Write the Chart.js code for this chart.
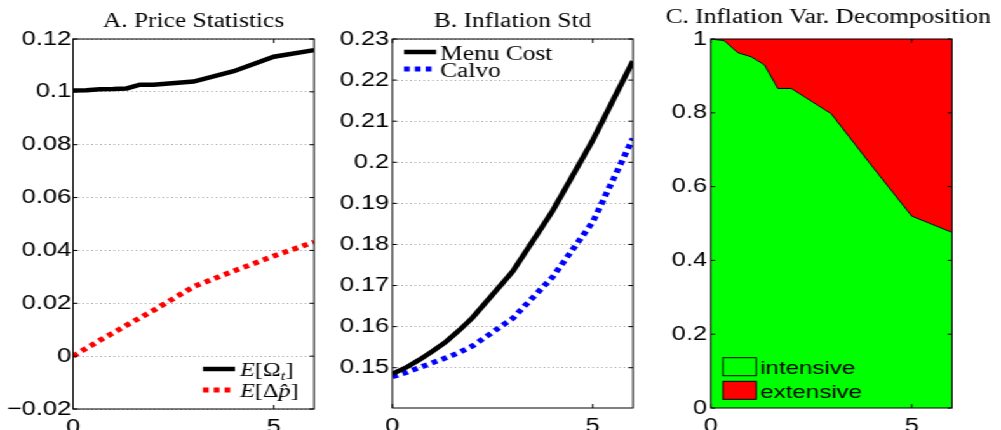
<!DOCTYPE html>
<html>
<head>
<meta charset="utf-8">
<script src="https://cdn.jsdelivr.net/npm/chart.js@4.4.0/dist/chart.umd.min.js"></script>
<style>
  html, body { margin: 0; padding: 0; background: #fff; overflow: hidden; }
  /* the original figure is stretched sideways, so draw narrow and widen */
  #stage { position: absolute; left: 0; top: 0; width: 788px; height: 430px; transform: scaleX(1.2703); transform-origin: 0 0; }
  .panel { position: absolute; top: 0; height: 430px; }
</style>
</head>
<body>
<div id="stage">
  <div class="panel" style="left:0;width:262px"><canvas id="chartA"></canvas></div>
  <div class="panel" style="left:262px;width:262px"><canvas id="chartB"></canvas></div>
  <div class="panel" style="left:516px;width:272px"><canvas id="chartC"></canvas></div>
</div>
<script>
// horizon shared by the three panels
const horizon = [0, 1/3, 2/3, 1, 4/3, 5/3, 2, 3, 4, 5, 6];
const xTicks = [0, 5];

// A. Price Statistics
const omega = [0.1005, 0.1006, 0.1010, 0.1011, 0.1013, 0.1027, 0.1027, 0.1039, 0.1078, 0.1133, 0.1158];
const dpHat = [0.0, 0.0030, 0.0060, 0.0088, 0.0117, 0.0145, 0.0173, 0.0263, 0.0322, 0.0379, 0.0432];
const yTicksA = [-0.02, 0, 0.02, 0.04, 0.06, 0.08, 0.1, 0.12];

// B. Inflation Std
const menuCost = [0.1485, 0.1500, 0.1519, 0.1540, 0.1563, 0.1591, 0.1622, 0.1734, 0.1882, 0.2054, 0.2246];
const calvo = [0.1478, 0.1488, 0.1500, 0.1512, 0.1524, 0.1537, 0.1553, 0.1620, 0.1721, 0.1855, 0.2058];
const yTicksB = [0.15, 0.16, 0.17, 0.18, 0.19, 0.2, 0.21, 0.22, 0.23];

// C. Inflation Var. Decomposition (shares, stacked)
const intensive = [1.0, 0.9955, 0.963, 0.952, 0.930, 0.866, 0.866, 0.797, 0.657, 0.520, 0.476];
const extensive = [0.0, 0.0045, 0.037, 0.048, 0.070, 0.134, 0.134, 0.203, 0.343, 0.480, 0.524];
const yTicksC = [0, 0.2, 0.4, 0.6, 0.8, 1];

const serif = '"Liberation Serif", "Times New Roman", serif';
const sans = '"Liberation Sans", Arial, sans-serif';
const tickFont = { family: sans, size: 20 };

function pts(arr) {
    return horizon.map((x, i) => ({ x: x, y: arr[i] }));
}

// box round the plot area with inward tick marks, matlab style
const framePlugin = {
    id: 'frame',
    afterDatasetsDraw(chart) {
        const { ctx, chartArea: a, scales } = chart;
        ctx.save();
        ctx.strokeStyle = '#000';
        ctx.lineWidth = 1;
        ctx.setLineDash([]);
        ctx.strokeRect(a.left, a.top, a.right - a.left, a.bottom - a.top);
        ctx.beginPath();
        scales.y.ticks.forEach(t => {
            const y = scales.y.getPixelForValue(t.value);
            ctx.moveTo(a.left, y); ctx.lineTo(a.left + 3.5, y);
            ctx.moveTo(a.right, y); ctx.lineTo(a.right - 3.5, y);
        });
        scales.x.ticks.forEach(t => {
            const x = scales.x.getPixelForValue(t.value);
            ctx.moveTo(x, a.bottom); ctx.lineTo(x, a.bottom - 4);
            ctx.moveTo(x, a.top); ctx.lineTo(x, a.top + 4);
        });
        ctx.stroke();
        ctx.restore();
    }
};

// legend drawn inside the plot area
function makeKey(cfg) {
    return {
        id: 'key',
        afterDraw(chart) {
            const { ctx, chartArea: a } = chart;
            ctx.save();
            cfg.items.forEach((item, i) => {
                const ds = chart.data.datasets[item.ds];
                const x0 = a.left + cfg.x;
                const yc = a.top + cfg.y + i * cfg.step;
                if (cfg.patch) {
                    ctx.fillStyle = ds.backgroundColor;
                    ctx.fillRect(x0, yc - cfg.h / 2, cfg.len, cfg.h);
                    ctx.strokeStyle = '#000';
                    ctx.lineWidth = 1;
                    ctx.setLineDash([]);
                    ctx.strokeRect(x0, yc - cfg.h / 2, cfg.len, cfg.h);
                } else {
                    ctx.strokeStyle = ds.borderColor;
                    ctx.lineWidth = ds.borderWidth;
                    ctx.setLineDash(ds.borderDash || []);
                    ctx.beginPath();
                    ctx.moveTo(x0, yc);
                    ctx.lineTo(x0 + cfg.len, yc);
                    ctx.stroke();
                }
                ctx.fillStyle = '#000';
                ctx.textBaseline = 'alphabetic';
                let x = x0 + cfg.len + cfg.gap;
                item.parts.forEach(p => {
                    ctx.font = p.font;
                    ctx.fillText(p.t, x, yc + cfg.base + (p.dy || 0));
                    x += ctx.measureText(p.t).width;
                });
            });
            ctx.restore();
        }
    };
}

function scalesFor(yMin, yMax, yTicks, yWidth, xHeight, labelPad, showGrid, stacked) {
    return {
        x: {
            type: 'linear', min: 0, max: 6,
            afterBuildTicks: s => { s.ticks = xTicks.map(v => ({ value: v })); },
            afterFit: s => { s.height = xHeight; },
            grid: { display: false, drawTicks: false },
            border: { display: false },
            ticks: { padding: 6, color: '#000', font: tickFont, maxRotation: 0 }
        },
        y: {
            min: yMin, max: yMax, stacked: stacked,
            afterBuildTicks: s => { s.ticks = yTicks.map(v => ({ value: v })); },
            afterFit: s => { s.width = yWidth; },
            grid: { display: showGrid, drawTicks: false, color: '#9a9a9a', lineWidth: 1 },
            border: { display: false, dash: [1, 2.5] },
            ticks: {
                padding: labelPad, color: '#000', font: tickFont,
                callback: v => String(v).replace('-', '\u2212')
            }
        }
    };
}

function titleFor(text, full, top) {
    return {
        display: true, text: text, color: '#000', fullSize: full,
        font: { family: serif, size: 20, weight: 'normal' },
        padding: { top: top, bottom: 15 - top }
    };
}

const it19 = 'italic 19px ' + serif;
const rm19 = '19px ' + serif;
const it13 = 'italic 13px ' + serif;

new Chart(document.getElementById('chartA'), {
    type: 'line',
    data: {
        datasets: [{
            label: 'E[Ω_t]',
            data: pts(omega),
            borderColor: '#000', borderWidth: 4.5,
            pointRadius: 0, tension: 0
        }, {
            label: 'E[Δp̂]',
            data: pts(dpHat),
            borderColor: '#ff0000', borderWidth: 5, borderDash: [4.5, 4],
            borderCapStyle: 'butt',
            pointRadius: 0, tension: 0
        }]
    },
    options: {
        responsive: true, maintainAspectRatio: false, animation: false,
        layout: { padding: { left: 0, right: 14.8, top: 0, bottom: 0 } },
        scales: scalesFor(-0.02, 0.12, yTicksA, 57.5, 21, 1.5, true, false),
        plugins: { legend: { display: false }, tooltip: { enabled: false }, title: titleFor('A. Price Statistics', false, 9.6) }
    },
    plugins: [framePlugin, makeKey({
        x: 102.3, y: 330, step: 21, len: 25.2, gap: 4, base: 6.5,
        items: [
            { ds: 0, parts: [{ t: 'E', font: it19 }, { t: '[', font: rm19 }, { t: 'Ω', font: rm19 }, { t: 't', font: it13, dy: 4 }, { t: ']', font: rm19 }] },
            { ds: 1, parts: [{ t: 'E', font: it19 }, { t: '[', font: rm19 }, { t: 'Δ', font: rm19 }, { t: 'p\u0302', font: it19 }, { t: ']', font: rm19 }] }
        ]
    })]
});

new Chart(document.getElementById('chartB'), {
    type: 'line',
    data: {
        datasets: [{
            label: 'Menu Cost',
            data: pts(menuCost),
            borderColor: '#000', borderWidth: 4.5,
            pointRadius: 0, tension: 0
        }, {
            label: 'Calvo',
            data: pts(calvo),
            borderColor: '#0000ff', borderWidth: 5, borderDash: [4.5, 4],
            borderCapStyle: 'butt',
            pointRadius: 0, tension: 0
        }]
    },
    options: {
        responsive: true, maintainAspectRatio: false, animation: false,
        layout: { padding: { left: 0, right: 25.8, top: 0, bottom: 0 } },
        scales: scalesFor(0.1402, 0.23, yTicksB, 46.9, 22, 2.5, true, false),
        plugins: { legend: { display: false }, tooltip: { enabled: false }, title: titleFor('B. Inflation Std', false, 9.6) }
    },
    plugins: [framePlugin, makeKey({
        x: 9.2, y: 13, step: 17, len: 25.2, gap: 3.2, base: 7.5,
        items: [
            { ds: 0, parts: [{ t: 'Menu Cost', font: '20px ' + serif }] },
            { ds: 1, parts: [{ t: 'Calvo', font: '20px ' + serif }] }
        ]
    })]
});

const scalesC = scalesFor(0, 1, yTicksC, 43.6, 22, 3, false, true);
// empty right-hand axis only to reserve room, so the wide title keeps full canvas width
scalesC.yr = {
    position: 'right',
    afterFit: s => { s.width = 38.6; },
    grid: { display: false, drawTicks: false },
    border: { display: false },
    ticks: { display: false }
};

new Chart(document.getElementById('chartC'), {
    type: 'line',
    data: {
        datasets: [{
            label: 'intensive',
            data: pts(intensive),
            borderColor: '#000', borderWidth: 1,
            backgroundColor: '#00ff00', fill: 'origin',
            pointRadius: 0, tension: 0
        }, {
            label: 'extensive',
            data: pts(extensive),
            borderWidth: 0, borderColor: 'rgba(0,0,0,0)',
            backgroundColor: '#ff0000', fill: '-1',
            pointRadius: 0, tension: 0
        }]
    },
    options: {
        responsive: true, maintainAspectRatio: false, animation: false,
        layout: { padding: 0 },
        scales: scalesC,
        plugins: { legend: { display: false }, tooltip: { enabled: false }, title: titleFor('C. Inflation Var. Decomposition', true, 5.6) }
    },
    plugins: [framePlugin, makeKey({
        patch: true, x: 9.5, y: 327.7, step: 23.6, len: 26.2, h: 18, gap: 3.1, base: 7.5,
        items: [
            { ds: 0, parts: [{ t: 'intensive', font: '19px ' + sans }] },
            { ds: 1, parts: [{ t: 'extensive', font: '19px ' + sans }] }
        ]
    })]
});
</script>
</body>
</html>
